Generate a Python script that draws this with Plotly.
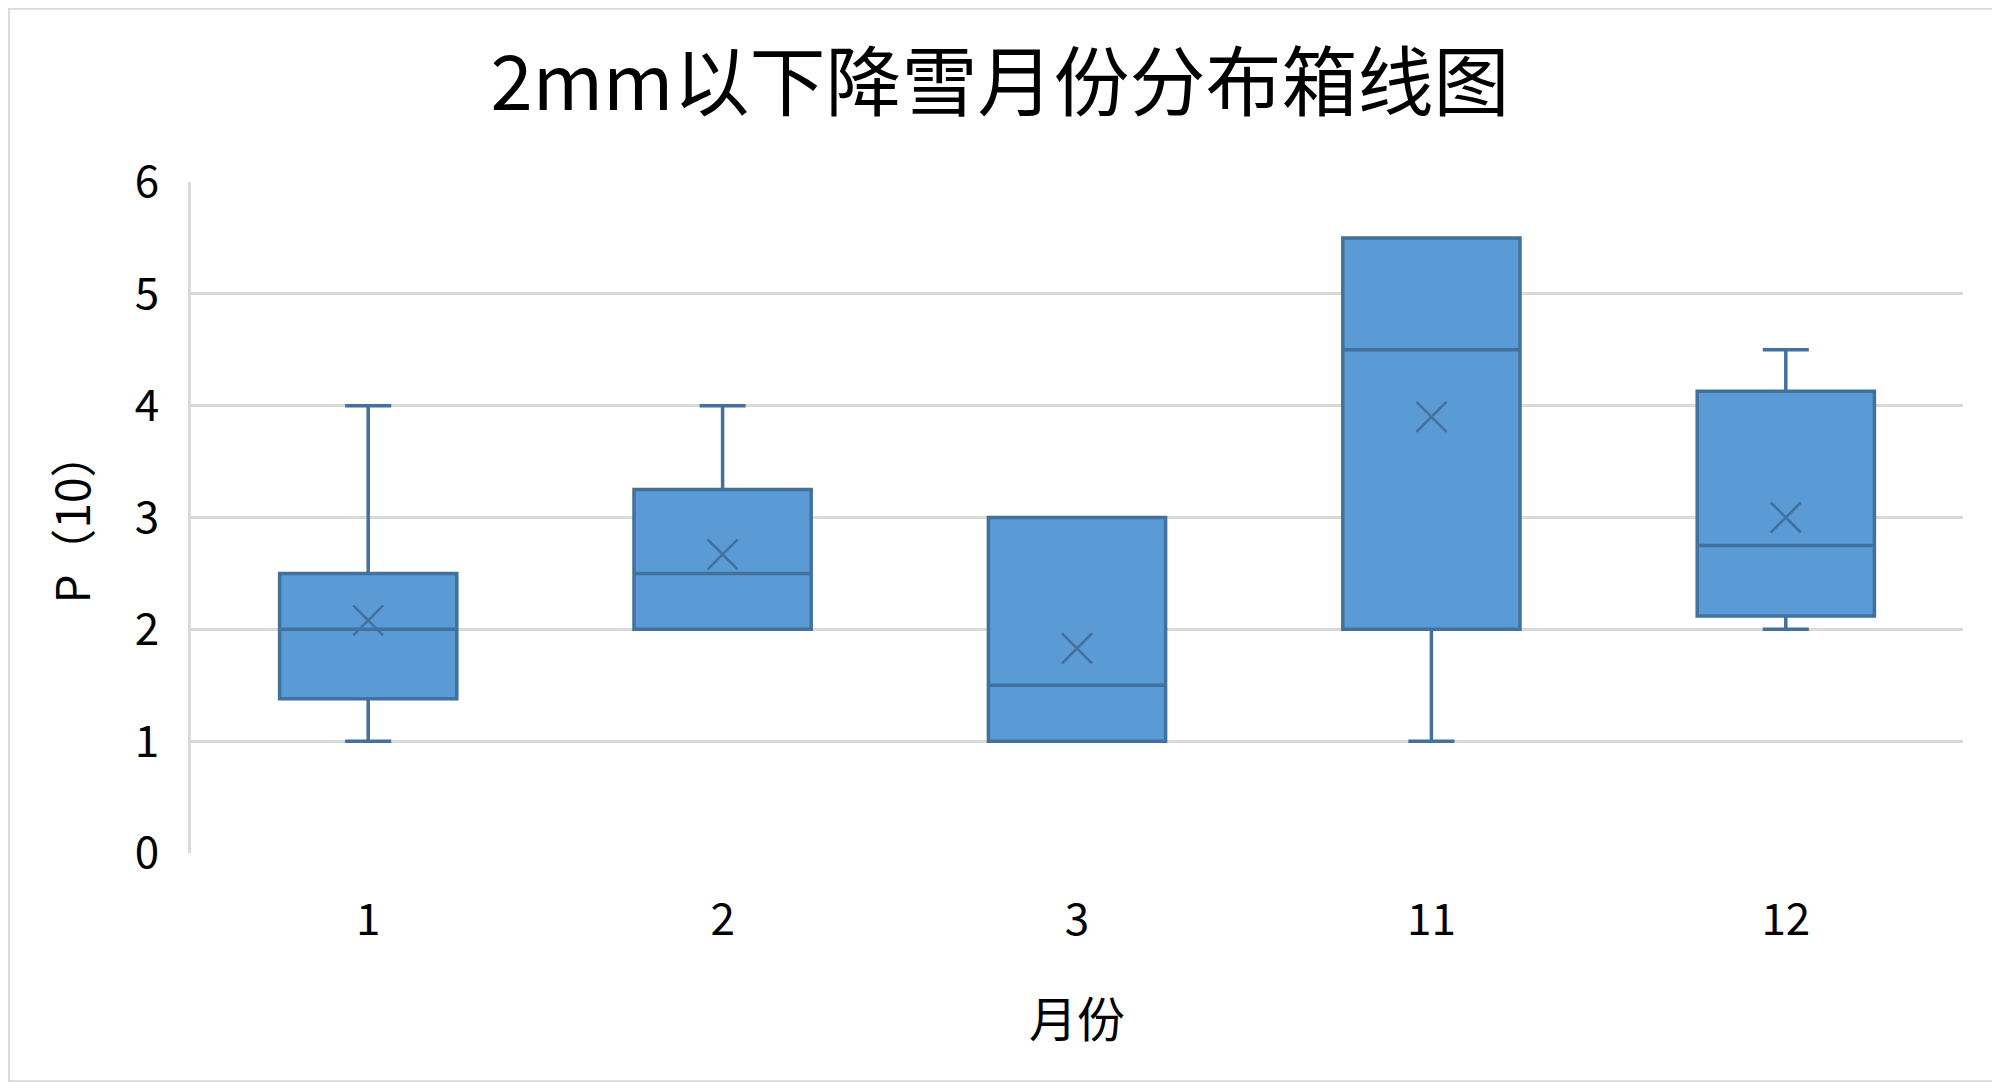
import plotly.graph_objects as go

# 2mm以下降雪 - box stats per month
months = ["1", "2", "3", "11", "12"]
lower = [1.0, 2.0, 1.0, 1.0, 2.0]
q1 = [1.38, 2.0, 1.0, 2.0, 2.12]
median = [2.0, 2.5, 1.5, 4.5, 2.75]
q3 = [2.5, 3.25, 3.0, 5.5, 4.13]
upper = [4.0, 4.0, 3.0, 5.5, 4.5]
means = [2.08, 2.67, 1.83, 3.9, 3.0]

FILL = "#5B9BD5"
EDGE = "#41719C"
GRID = "#D9D9D9"
FONT = "Noto Sans CJK SC"

# page body has an 8px margin, so the figure is sized to fit inside it
W, H = 1992, 1074
ML, MR, MT, MB = 183, 37, 174, 229

fig = go.Figure()

fig.add_trace(go.Box(
    x=months,
    q1=q1,
    median=median,
    q3=q3,
    lowerfence=lower,
    upperfence=upper,
    boxpoints=False,
    fillcolor=FILL,
    line=dict(color=EDGE, width=3.5),
    whiskerwidth=0.26,
    showlegend=False,
    hoverinfo="skip",
))

# mean markers drawn as X like Excel
fig.add_trace(go.Scatter(
    x=months,
    y=means,
    mode="markers",
    marker=dict(symbol="x-thin-open", size=30, color=EDGE,
                line=dict(color=EDGE, width=2.5)),
    showlegend=False,
    hoverinfo="skip",
))

# light border around the whole chart area
pw, ph = W - ML - MR, H - MT - MB
fig.add_shape(
    type="rect", xref="paper", yref="paper",
    x0=-ML / pw + 0.0005, x1=1 + MR / pw - 0.0005,
    y0=-MB / ph + 0.001, y1=1 + MT / ph - 0.001,
    line=dict(color=GRID, width=2),
)

fig.update_layout(
    width=W,
    height=H,
    margin=dict(l=ML, r=MR, t=MT, b=MB),
    paper_bgcolor="white",
    plot_bgcolor="white",
    boxgap=0.5,
    boxgroupgap=0,
    font=dict(family=FONT, color="#000000"),
    title=dict(
        text="2mm以下降雪月份分布箱线图",
        x=992 / W, xref="container", xanchor="center",
        y=1 - 75 / H, yref="container", yanchor="middle",
        font=dict(size=76, color="#000000"),
    ),
)

fig.update_xaxes(
    type="category",
    range=[-0.5, 4.5],
    showgrid=False,
    showline=False,
    ticks="",
    tickfont=dict(size=44),
    ticklabelstandoff=37,
    title=dict(text="月份", font=dict(size=48), standoff=56),
)

fig.update_yaxes(
    range=[0, 6],
    dtick=1,
    showgrid=True,
    gridcolor=GRID,
    gridwidth=3,
    zeroline=False,
    showline=True,
    linecolor=GRID,
    linewidth=3,
    ticks="",
    tickfont=dict(size=44),
    ticklabelstandoff=20,
    title=dict(text="P（10）", font=dict(size=46), standoff=30),
)

fig.write_html("out.html")
